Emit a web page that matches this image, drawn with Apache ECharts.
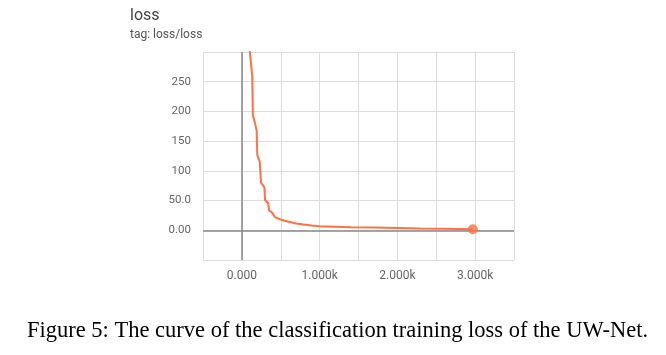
<!DOCTYPE html>
<html>
<head>
<meta charset="utf-8">
<script src="https://cdn.jsdelivr.net/npm/echarts@6/dist/echarts.min.js"></script>
<style>
  html, body { margin: 0; padding: 0; background: #fff; }
  #chart { width: 666px; height: 355px; }
</style>
</head>
<body>
<div id="chart"></div>
<script>
// training steps and loss
const steps = [80, 110, 133, 142, 165, 190, 198, 230, 246, 270, 290, 298, 320, 340, 350, 380, 405, 427, 460, 490, 550, 620, 700, 793, 900, 1000, 1200, 1400, 1700, 2000, 2300, 2600, 2970];
const loss = [330, 290, 259, 193, 182, 168, 127, 115, 80, 76, 72, 51, 48, 45, 33, 31, 28, 22, 20, 18.6, 16, 14, 11.5, 9.6, 8, 6.8, 6, 5.2, 4.6, 4, 3.2, 2.5, 1.7];

// tick labels that are shown (the others stay blank)
const xTickLabels = { "0": "0.000", "1000": "1.000k", "2000": "2.000k", "3000": "3.000k" };
const yTickLabels = { "0": "0.00", "50": "50.0", "100": "100", "150": "150", "200": "200", "250": "250" };

const lineColor = "#ff7043";
const font = "Roboto, 'Open Sans', sans-serif";

let chart = echarts.init(document.getElementById("chart"));
let option = {
  animation: false,
  title: [
    {
      text: "loss",
      subtext: "tag: loss/loss",
      left: 125,
      top: 3,
      itemGap: 5,
      textStyle: { fontSize: 16, fontWeight: "normal", color: "#444", fontFamily: font },
      subtextStyle: { fontSize: 12, color: "#555", fontFamily: font }
    },
    {
      text: "Figure 5: The curve of the classification training loss of the UW-Net.",
      left: 22,
      top: 315,
      textStyle: { fontSize: 22.5, fontWeight: "normal", color: "#000", fontFamily: "'Liberation Serif', 'Times New Roman', serif" }
    }
  ],
  grid: { left: 203, right: 152, top: 52, bottom: 95 },
  xAxis: {
    type: "value",
    min: -500,
    max: 3500,
    interval: 500,
    axisLine: { show: false },
    axisTick: { show: true, length: 5, lineStyle: { color: "#ddd" } },
    splitLine: { show: true, lineStyle: { color: "#ddd", width: 1 } },
    axisLabel: {
      margin: 10,
      color: "#666",
      fontSize: 12,
      fontFamily: font,
      formatter: v => xTickLabels[String(v)] || ""
    }
  },
  yAxis: {
    type: "value",
    min: -50,
    max: 300,
    interval: 50,
    axisLine: { show: false },
    axisTick: { show: true, length: 6, lineStyle: { color: "#ddd" } },
    splitLine: { show: true, lineStyle: { color: "#ddd", width: 1 } },
    axisLabel: {
      margin: 12,
      color: "#666",
      fontSize: 11.5,
      fontFamily: font,
      formatter: v => yTickLabels[String(v)] || ""
    }
  },
  series: [
    {
      type: "line",
      data: steps.map((s, i) => [s, loss[i]]),
      showSymbol: false,
      clip: true,
      lineStyle: { color: lineColor, width: 2 },
      z: 3,
      markLine: {
        silent: true,
        symbol: "none",
        label: { show: false },
        lineStyle: { color: "#888", width: 1.5, type: "solid" },
        data: [{ xAxis: 0 }, { yAxis: 0 }],
        z: 2
      }
    },
    {
      type: "scatter",
      data: [[steps[steps.length - 1], loss[loss.length - 1]]],
      symbolSize: 10,
      itemStyle: { color: lineColor },
      z: 4
    }
  ]
};
chart.setOption(option);
</script>
</body>
</html>
